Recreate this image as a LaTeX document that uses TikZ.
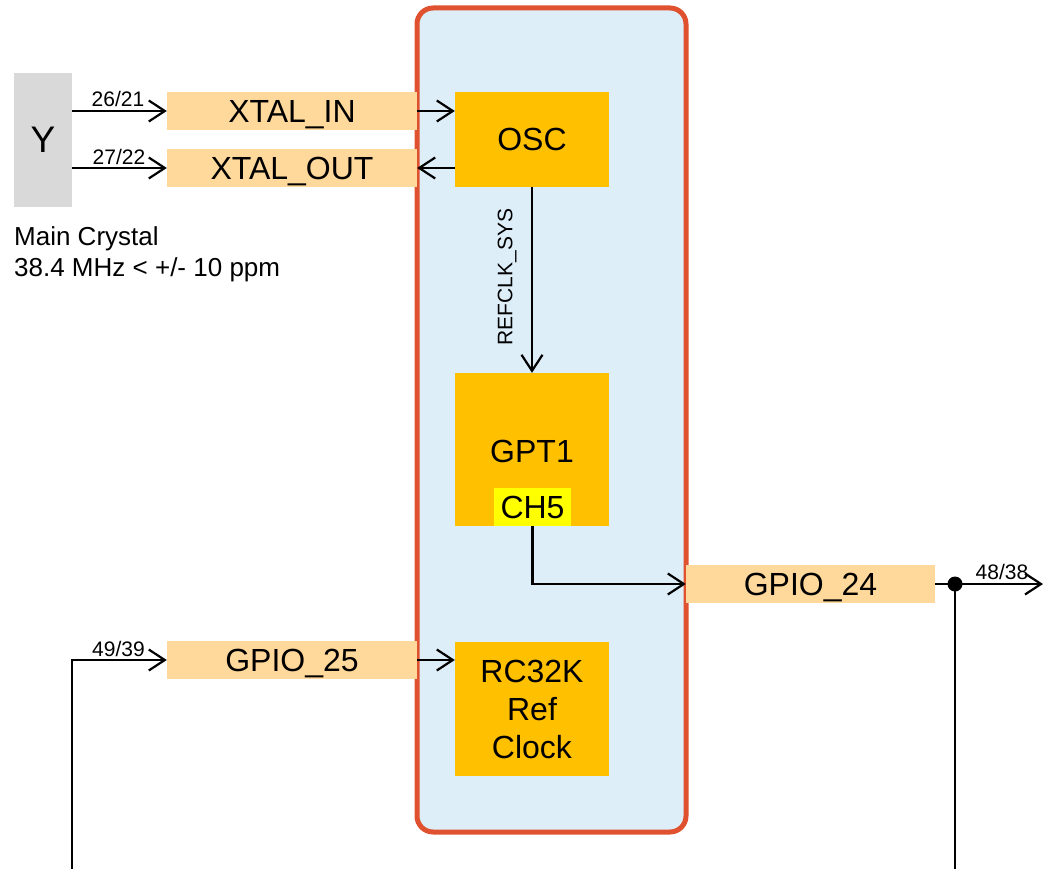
\documentclass[tikz,border=0pt]{standalone}
\usepackage{fontspec}
\setmainfont{Liberation Sans}
\usetikzlibrary{arrows.meta}
\definecolor{pinbox}{HTML}{FFD89B}
\definecolor{blk}{HTML}{FFC000}
\definecolor{chfill}{HTML}{FFFF00}
\definecolor{contfill}{HTML}{DDEEF9}
\definecolor{contline}{HTML}{E0522F}
\definecolor{ybox}{HTML}{D9D9D9}
\begin{document}
\begin{tikzpicture}[x=1pt,y=-1pt,
  bigtxt/.style={font=\fontsize{32}{36}\selectfont, text height=23pt, text depth=0pt},
  pinbx/.style={fill=pinbox, inner sep=0pt, minimum width=250pt, minimum height=38pt, bigtxt},
  blockbox/.style={fill=blk, inner sep=0pt, minimum width=154pt, bigtxt},
  wire/.style={line width=2.2pt, draw=black},
  arr/.style={wire, -{Straight Barb[length=16pt,width=21pt,line width=2.2pt]}},
  pinlbl/.style={font=\fontsize{21}{23}\selectfont, inner sep=0pt}
]
\useasboundingbox (0,0) rectangle (1043,869);
% container
\node[draw=contline, fill=contfill, line width=5pt, rounded corners=16pt,
      minimum width=269pt, minimum height=824pt, inner sep=0pt] (cont) at (551.5,420) {};
% crystal
\node[fill=ybox, minimum width=58pt, minimum height=134pt, inner sep=0pt,
      font=\fontsize{37}{40}\selectfont, text height=26pt, text depth=0pt] (y) at (43,140) {Y};
\node[anchor=north west, align=left, inner sep=0pt,
      font=\fontsize{26}{31}\selectfont] (mc) at (14,226) {Main Crystal\\38.4 MHz < +/- 10 ppm};
% pin boxes
\node[pinbx] (xin) at (292,111) {XTAL\_IN};
\node[pinbx] (xout) at (292,168) {XTAL\_OUT};
\node[pinbx] (g25) at (292,660) {GPIO\_25};
\node[pinbx, minimum width=249pt] (g24) at (810.5,584) {GPIO\_24};
% blocks
\node[blockbox, minimum height=95pt] (osc) at (532,139.5) {OSC};
\node[blockbox, minimum height=153pt] (gpt) at (532,449.5) {};
\node[inner sep=0pt, bigtxt] (gpttxt) at (532,451) {GPT1};
\node[fill=chfill, inner sep=0pt, minimum width=77pt, minimum height=38pt,
      bigtxt] (ch5) at (532.5,507) {CH5};
\node[fill=blk, inner sep=0pt, minimum width=154pt, minimum height=134pt, align=center,
      font=\fontsize{32}{38}\selectfont] (rc) at (532,709) {RC32K\\Ref\\Clock};
% connectors
\draw[arr] (y.east |- xin.west) -- (xin.west);
\draw[arr] (y.east |- xout.west) -- (xout.west);
\node[pinlbl] (l1) at (118,99) {26/21};
\node[pinlbl] (l2) at (119,157) {27/22};
\draw[arr] (xin.east) -- (osc.west |- xin.east);
\draw[arr] (osc.west |- xout.east) -- (xout.east);
\draw[arr] (osc.south) -- (gpt.north);
\node[pinlbl, rotate=90] (refl) at (507,277) {REFCLK\_SYS};
\draw[arr] (ch5.south) |- (g24.west);
\coordinate (dot) at (955,584);
\coordinate (out) at (1043,584);
\coordinate (bot1) at (955,869);
\coordinate (bot2) at (72,869);
\draw[arr] (g24.east) -- (out);
\fill (dot) circle (7.5pt);
\draw[wire] (dot) -- (bot1);
\node[pinlbl] (l3) at (1002,572) {48/38};
\draw[arr] (bot2) |- (g25.west);
\node[pinlbl] (l4) at (118.5,649) {49/39};
\draw[arr] (g25.east) -- (rc.west |- g25.east);
\end{tikzpicture}
\end{document}
